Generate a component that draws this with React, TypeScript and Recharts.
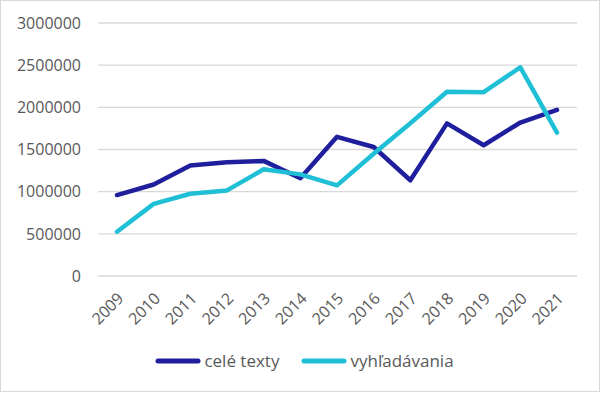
import { LineChart, Line, XAxis, YAxis, CartesianGrid, Legend } from "recharts";

const years = ["2009", "2010", "2011", "2012", "2013", "2014", "2015", "2016", "2017", "2018", "2019", "2020", "2021"];
const celeTexty = [960000, 1085000, 1310000, 1350000, 1365000, 1160000, 1650000, 1530000, 1135000, 1810000, 1550000, 1820000, 1970000];
const vyhladavania = [525000, 855000, 975000, 1015000, 1265000, 1205000, 1075000, 1450000, 1810000, 2185000, 2180000, 2475000, 1700000];
const yTicks = [0, 500000, 1000000, 1500000, 2000000, 2500000, 3000000];

const DARK = "#1f1f9e";
const CYAN = "#1fc0d6";
const TEXT = "#595959";
const FONT = "'Open Sans', 'Liberation Sans', sans-serif";

const data = years.map((y, i) => ({ year: y, cele: celeTexty[i], vyhl: vyhladavania[i] }));

const YearTick = (props: any) => {
  const { x, y, payload } = props;
  return (
    <g transform={`translate(${x + 4},${y + 12})`}>
      <text textAnchor="end" fill={TEXT} fontSize={16} fontFamily={FONT} transform="rotate(-45)" dy={5}>
        {payload.value}
      </text>
    </g>
  );
};

const LegendContent = () => {
  const items = [
    { label: "celé texty", color: DARK },
    { label: "vyhľadávania", color: CYAN },
  ];
  return (
    <div style={{ display: "flex", justifyContent: "center", alignItems: "center", fontFamily: FONT, fontSize: 17, color: TEXT, paddingLeft: 8 }}>
      {items.map((it, i) => (
        <div key={it.label} style={{ display: "flex", alignItems: "center", marginLeft: i > 0 ? 22 : 0 }}>
          <svg width={46} height={10} style={{ marginRight: 3 }}>
            <line x1={3} y1={5} x2={43} y2={5} stroke={it.color} strokeWidth={5} strokeLinecap="round" />
          </svg>
          <span>{it.label}</span>
        </div>
      ))}
    </div>
  );
};

export default function App() {
  return (
    <div style={{ position: "absolute", left: 0, top: 0, width: 601, height: 393, background: "#fff" }}>
      <div style={{ position: "absolute", left: 0, top: 0, width: 598, height: 390, border: "1px solid #d9d9d9" }} />
      <LineChart width={601} height={393} data={data} margin={{ top: 23, right: 24, left: 0, bottom: 21 }}>
        <CartesianGrid vertical={false} stroke="#d9d9d9" strokeWidth={1.3} />
        <XAxis
          dataKey="year"
          axisLine={false}
          tickLine={false}
          tick={<YearTick />}
          height={73}
          padding={{ left: 19, right: 20 }}
          interval={0}
        />
        <YAxis
          domain={[0, 3000000]}
          ticks={yTicks}
          axisLine={false}
          tickLine={false}
          tickSize={0}
          tickMargin={17}
          width={98}
          tick={{ fill: TEXT, fontSize: 16, fontFamily: FONT }}
        />
        <Legend verticalAlign="bottom" content={<LegendContent />} wrapperStyle={{ left: 0, width: 601 }} />
        <Line dataKey="cele" name="celé texty" stroke={DARK} strokeWidth={4.5} dot={false} isAnimationActive={false} strokeLinejoin="round" strokeLinecap="round" />
        <Line dataKey="vyhl" name="vyhľadávania" stroke={CYAN} strokeWidth={4.5} dot={false} isAnimationActive={false} strokeLinejoin="round" strokeLinecap="round" />
      </LineChart>
    </div>
  );
}
